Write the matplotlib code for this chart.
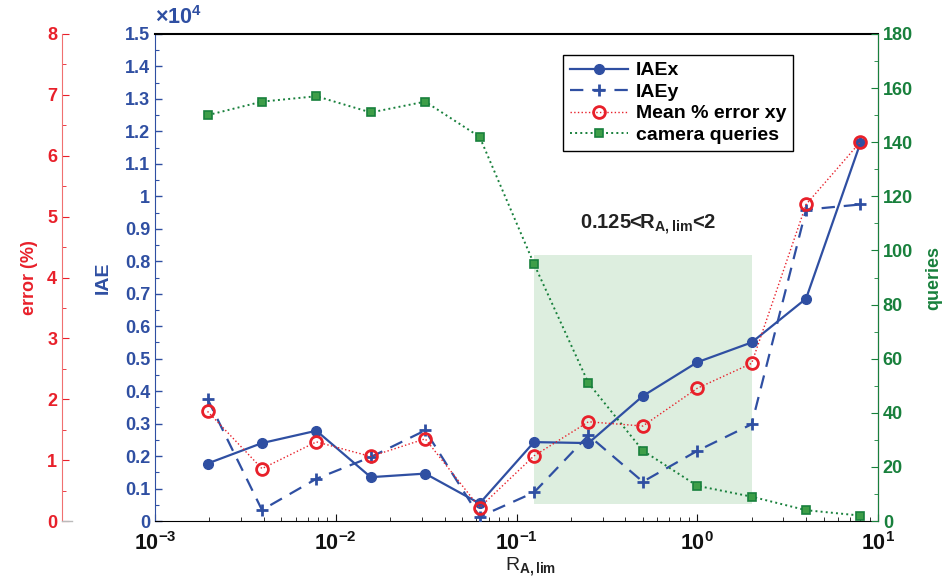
import math
import matplotlib
matplotlib.use("Agg")
import matplotlib.pyplot as plt
from matplotlib.ticker import FuncFormatter, MultipleLocator, LogLocator, NullFormatter
from matplotlib.lines import Line2D

plt.rcParams['font.family'] = ['Liberation Sans', 'DejaVu Sans']
plt.rcParams['font.weight'] = 'bold'
plt.rcParams['mathtext.fontset'] = 'custom'
plt.rcParams['mathtext.rm'] = 'Liberation Sans:bold'
plt.rcParams['mathtext.bf'] = 'Liberation Sans:bold'
plt.rcParams['mathtext.it'] = 'Liberation Sans:bold'
plt.rcParams['mathtext.default'] = 'bf'

# ---- data ----
r_alim = [2**-9, 2**-8, 2**-7, 2**-6, 2**-5, 2**-4, 2**-3, 2**-2, 2**-1, 1, 2, 4, 8]
iae_x = [1770, 2400, 2780, 1350, 1460, 540, 2430, 2400, 3850, 4890, 5500, 6850, 11650]
iae_y = [3760, 340, 1300, 1970, 2790, 130, 880, 2640, 1210, 2160, 2980, 9590, 9750]
err_pct = [1.80, 0.86, 1.30, 1.06, 1.35, 0.22, 1.07, 1.63, 1.56, 2.18, 2.59, 5.20, 6.23]
queries = [150, 155, 157, 151, 155, 142, 95, 51, 26, 13, 9, 4, 2]
shade_x = [0.125, 2]
shade_iae = [520, 8200]

BLUE = '#2F4FA2'
RED = '#E8202A'
GREEN = '#18803C'

TICK_FS = 13
LAB_FS = 13

W, H = 944, 578
fig = plt.figure(figsize=(W / 100, H / 100), dpi=100)
L, R, T, B = 155, 878, 34, 521
ax = fig.add_axes([L / W, (H - B) / H, (R - L) / W, (B - T) / H])

# shaded region
ax.fill_between(shade_x, [shade_iae[0]] * 2, [shade_iae[1]] * 2, color='#DDEEDF', lw=0, zorder=0)
ax.text(0.535, 8750, r'0.125<R$_{\mathbf{A,lim}}$<2', ha='center', va='bottom', fontsize=14.5, color='#222222')

ax.set_xscale('log')
ax.set_xlim(1e-3, 10)
ax.set_ylim(0, 15000)
l1, = ax.plot(r_alim, iae_x, '-', color=BLUE, lw=1.6, marker='o', ms=7, mfc=BLUE, mec=BLUE, label='IAEx', zorder=5)
l2, = ax.plot(r_alim, iae_y, '--', color=BLUE, lw=1.6, dashes=(6, 4), marker='+', ms=9, mew=2, label='IAEy', zorder=5)

ax.yaxis.set_major_locator(MultipleLocator(1000))
ax.yaxis.set_minor_locator(MultipleLocator(500))
ax.yaxis.set_major_formatter(FuncFormatter(lambda v, p: '%g' % round(v / 1e4, 2)))
ax.tick_params(axis='y', which='both', direction='in', colors=BLUE, labelsize=TICK_FS)
ax.tick_params(axis='y', which='major', length=5, width=1)
ax.tick_params(axis='y', which='minor', length=3, width=0.8)
ax.xaxis.set_major_locator(LogLocator(base=10, numticks=10))
ax.xaxis.set_minor_locator(LogLocator(base=10, subs=range(2, 10), numticks=20))
ax.xaxis.set_minor_formatter(NullFormatter())
ax.xaxis.set_major_formatter(FuncFormatter(lambda v, p: r'$\mathbf{10^{%d}}$' % round(math.log10(v))))
ax.tick_params(axis='x', which='both', direction='in', colors='#111111', labelsize=15.5, top=False, pad=8)
ax.tick_params(axis='x', which='major', length=5)
ax.tick_params(axis='x', which='minor', length=3)
ax.spines['left'].set_color(BLUE)
ax.spines['bottom'].set_color('black')
ax.spines['top'].set_color('black')
ax.spines['top'].set_linewidth(1.5)
ax.set_ylabel('IAE', color=BLUE, fontsize=LAB_FS + 1, fontweight='bold', va='center', ha='center')
ax.yaxis.set_label_coords((103 - L) / (R - L), 0.5)
ax.set_xlabel(r'R$_{\mathbf{A,lim}}$', fontsize=14, color='#222222')
ax.xaxis.set_label_coords(0.52, -0.07)
fig.text(L / W, 1 - 18 / H, r'$\mathbf{\times 10^4}$', color=BLUE, fontsize=15.5, ha='left', va='center')

# queries axis (right)
ax2 = ax.twinx()
ax2.set_ylim(0, 180)
l4, = ax2.plot(r_alim, queries, ':', color=GREEN, lw=1.4, marker='s', ms=6, mfc='#3E9E48', mec=GREEN, mew=1.2,
               label='camera queries', zorder=4)
ax2.yaxis.set_major_locator(MultipleLocator(20))
ax2.yaxis.set_minor_locator(MultipleLocator(10))
ax2.tick_params(axis='y', which='both', direction='in', colors=GREEN, labelsize=TICK_FS)
ax2.tick_params(axis='y', which='major', length=5)
ax2.tick_params(axis='y', which='minor', length=3)
for s in ['left', 'top', 'bottom']:
    ax2.spines[s].set_visible(False)
ax2.spines['right'].set_color(GREEN)
ax2.set_ylabel('queries', color=GREEN, fontsize=LAB_FS, fontweight='bold', va='center', ha='center')
ax2.yaxis.set_label_coords((934 - L) / (R - L), 0.5)

# error axis (far left)
ax3 = ax.twinx()
ax3.set_ylim(0, 8)
l3, = ax3.plot(r_alim, err_pct, ':', color=RED, lw=1.0, marker='o', ms=8.5, mfc='none', mec=RED, mew=2,
               label='Mean % error xy', zorder=6)
for s in ['right', 'top', 'bottom']:
    ax3.spines[s].set_visible(False)
ax3.spines['left'].set_visible(True)
ax3.spines['left'].set_position(('axes', (62 - L) / (R - L)))
ax3.spines['left'].set_color('#F07070')
ax3.yaxis.set_ticks_position('left')
ax3.yaxis.set_label_position('left')
ax3.yaxis.set_major_locator(MultipleLocator(1))
ax3.yaxis.set_minor_locator(MultipleLocator(0.5))
ax3.tick_params(axis='y', which='both', direction='in', colors=RED, labelsize=TICK_FS)
ax3.tick_params(axis='y', which='major', length=5)
ax3.tick_params(axis='y', which='minor', length=3)
ax3.set_ylabel('error (%)', color=RED, fontsize=LAB_FS, fontweight='bold', va='center', ha='center')
ax3.yaxis.set_label_coords((30 - L) / (R - L), 0.5)
fig.add_artist(Line2D([62 / W, 72 / W], [(H - B) / H] * 2, color='#BBBBBB', lw=1))

leg = ax3.legend(handles=[l1, l2, l3, l4], loc='upper left', bbox_to_anchor=(563 / W, 1 - 55 / H),
                 bbox_transform=fig.transFigure, fancybox=False, edgecolor='black', framealpha=1,
                 prop={'weight': 'bold', 'size': 14}, handlelength=3.0, borderpad=0.35, labelspacing=0.2,
                 handletextpad=0.4, borderaxespad=0)
leg.get_frame().set_linewidth(1)

fig.savefig('out.png', dpi=100)
